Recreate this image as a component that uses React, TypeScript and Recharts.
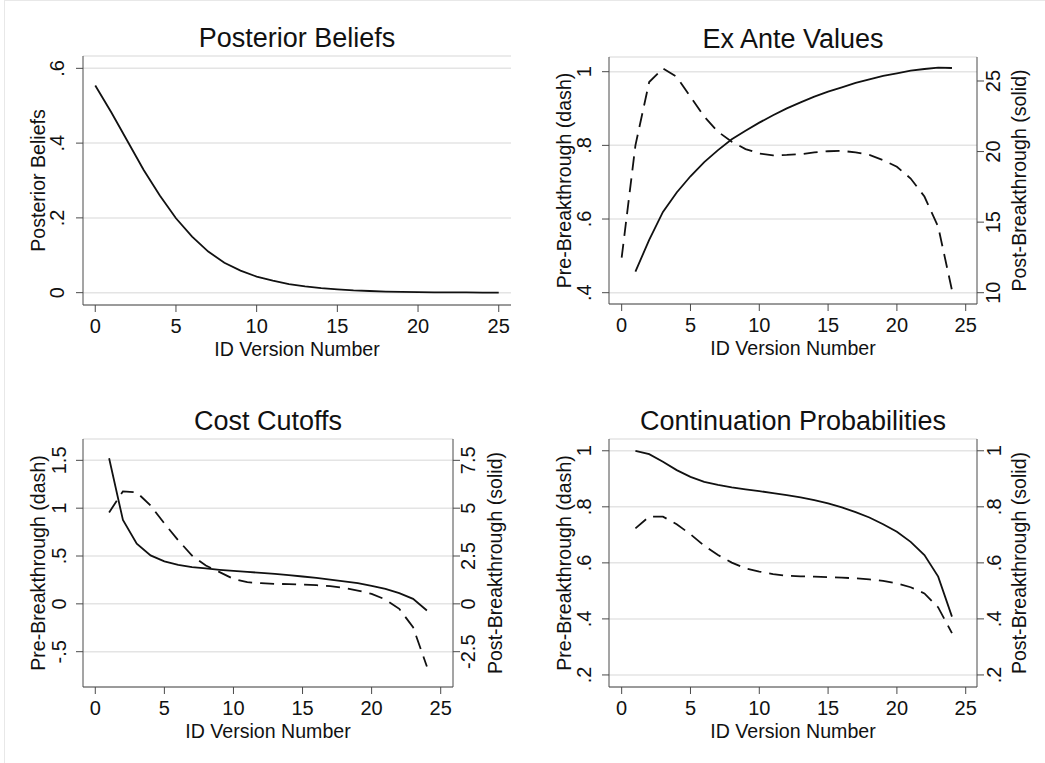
import React from "react";
import { LineChart, Line, XAxis, YAxis, CartesianGrid } from "recharts";

const FONT = '"Liberation Sans", Arial, Helvetica, sans-serif';
const INK = "#111111";
const AXIS = "#4a4a4a";
const GRID = "#e4e4e4";

// ID version numbers
const beliefVersions = [0, 1, 2, 3, 4, 5, 6, 7, 8, 9, 10, 11, 12, 13, 14, 15, 16, 17, 18, 19, 20, 21, 22, 23, 24, 25];
const posteriorBeliefs = [
  0.554, 0.482, 0.405, 0.328, 0.26, 0.199, 0.15, 0.11, 0.08, 0.059, 0.043, 0.032, 0.023, 0.017, 0.012,
  0.009, 0.006, 0.0045, 0.003, 0.002, 0.0015, 0.001, 0.0008, 0.0005, 0.0003, 0.0002,
];

const exAnteVersions = [0, 1, 2, 3, 4, 5, 6, 7, 8, 9, 10, 11, 12, 13, 14, 15, 16, 17, 18, 19, 20, 21, 22, 23, 24];
const exAntePre = [
  0.495, 0.8, 0.972, 1.009, 0.986, 0.932, 0.878, 0.837, 0.81, 0.79, 0.778, 0.773, 0.774, 0.776, 0.781,
  0.784, 0.785, 0.781, 0.774, 0.76, 0.742, 0.71, 0.661, 0.579, 0.407,
];
const exAntePost = [
  null, 11.49, 13.75, 15.72, 17.1, 18.25, 19.25, 20.1, 20.87, 21.48, 22.05, 22.57, 23.06, 23.49, 23.89,
  24.25, 24.55, 24.86, 25.12, 25.36, 25.54, 25.73, 25.85, 25.95, 25.92,
];

const cutoffVersions = [1, 2, 3, 4, 5, 6, 7, 8, 9, 10, 11, 12, 13, 14, 15, 16, 17, 18, 19, 20, 21, 22, 23, 24];
const cutoffPre = [
  0.955, 1.176, 1.165, 1.028, 0.84, 0.665, 0.505, 0.4, 0.331, 0.261, 0.226, 0.216, 0.209, 0.206, 0.202,
  0.195, 0.185, 0.167, 0.139, 0.105, 0.045, -0.052, -0.244, -0.655,
];
const cutoffPost = [
  7.61, 4.38, 3.14, 2.53, 2.22, 2.04, 1.92, 1.85, 1.78, 1.72, 1.67, 1.62, 1.57, 1.5, 1.43, 1.36, 1.27,
  1.18, 1.08, 0.94, 0.78, 0.56, 0.26, -0.35,
];

const contVersions = [1, 2, 3, 4, 5, 6, 7, 8, 9, 10, 11, 12, 13, 14, 15, 16, 17, 18, 19, 20, 21, 22, 23, 24];
const contPre = [
  0.723, 0.765, 0.765, 0.738, 0.702, 0.661, 0.628, 0.601, 0.58, 0.569, 0.56, 0.554, 0.552, 0.551, 0.549,
  0.547, 0.545, 0.541, 0.536, 0.527, 0.513, 0.491, 0.441, 0.349,
];
const contPost = [
  1.0, 0.988, 0.961, 0.931, 0.907, 0.889, 0.878, 0.869, 0.862, 0.856, 0.849, 0.842, 0.834, 0.824, 0.812,
  0.798, 0.781, 0.762, 0.738, 0.711, 0.675, 0.628, 0.551, 0.408,
];

const xTicks = [0, 5, 10, 15, 20, 25];
const beliefTicks = [0, 0.2, 0.4, 0.6];
const exAnteLeftTicks = [0.4, 0.6, 0.8, 1];
const exAnteRightTicks = [10, 15, 20, 25];
const cutoffLeftTicks = [-0.5, 0, 0.5, 1, 1.5];
const cutoffRightTicks = [-2.5, 0, 2.5, 5, 7.5];
const probTicks = [0.2, 0.4, 0.6, 0.8, 1];

const rows = (v: number[], pre: (number | null)[], post?: (number | null)[]) =>
  v.map((x, i) => ({ v: x, pre: pre[i], post: post ? post[i] : null }));

// stata style: .6 instead of 0.6
const fmt = (n: number) => String(n).replace(/^(-?)0\./, "$1.");

// vertical tick label, baseline pinned at a fixed x
const vTick = (bx: number) => (props: any) => {
  const { y, payload } = props;
  return (
    <text x={bx} y={y} transform={`rotate(-90, ${bx}, ${y})`} textAnchor="middle" fontSize={20} fontFamily={FONT} fill={INK}>
      {fmt(payload.value)}
    </text>
  );
};

const hTick = (by: number) => (props: any) => {
  const { x, payload } = props;
  return (
    <text x={x} y={by} textAnchor="middle" fontSize={20} fontFamily={FONT} fill={INK}>
      {fmt(payload.value)}
    </text>
  );
};

type Series = { key: string; axis: "left" | "right"; dashed?: boolean };

type PanelProps = {
  x: number;
  y: number;
  w: number;
  h: number;
  top: number;
  leftW: number;
  rightW: number;
  bottomH: number;
  title: string;
  leftLabel: string;
  rightLabel?: string;
  xDomain: [number, number];
  leftDomain: [number, number];
  leftTicks: number[];
  leftGap: number;
  rightDomain?: [number, number];
  rightTicks?: number[];
  rightGap?: number;
  data: any[];
  series: Series[];
};

function Panel(p: PanelProps) {
  const hasRight = !!p.rightLabel;
  const plotL = p.leftW;
  const plotR = p.w - p.rightW;
  const plotB = p.h - p.bottomH;
  const cx = (plotL + plotR) / 2;
  const cy = (p.top + plotB) / 2;
  const labelStyle = { fontSize: 19.6, fontFamily: FONT, fill: INK };

  return (
    <div style={{ position: "absolute", left: p.x, top: p.y, width: p.w, height: p.h }}>
      <LineChart
        width={p.w}
        height={p.h}
        data={p.data}
        margin={{ top: p.top, right: hasRight ? 0 : p.rightW, bottom: 0, left: 0 }}
      >
        <CartesianGrid yAxisId="left" vertical={false} stroke={GRID} strokeWidth={1.5} />
        <XAxis
          dataKey="v"
          type="number"
          domain={p.xDomain}
          ticks={xTicks}
          allowDataOverflow
          interval={0}
          height={p.bottomH}
          stroke={AXIS}
          tickSize={7}
          tick={hTick(plotB + 28)}
        />
        <YAxis
          yAxisId="left"
          type="number"
          domain={p.leftDomain}
          ticks={p.leftTicks}
          allowDataOverflow
          interval={0}
          width={p.leftW}
          stroke={AXIS}
          tickSize={7}
          tick={vTick(plotL - p.leftGap)}
        />
        {hasRight && (
          <YAxis
            yAxisId="right"
            orientation="right"
            type="number"
            domain={p.rightDomain}
            ticks={p.rightTicks}
            allowDataOverflow
            interval={0}
            width={p.rightW}
            stroke={AXIS}
            tickSize={7}
            tick={vTick(plotR + (p.rightGap || 23))}
          />
        )}
        {p.series.map((s) => (
          <Line
            key={s.key}
            yAxisId={s.axis}
            dataKey={s.key}
            type="linear"
            stroke={INK}
            strokeWidth={1.8}
            strokeDasharray={s.dashed ? "14 8" : undefined}
            dot={false}
            activeDot={false}
            isAnimationActive={false}
          />
        ))}
      </LineChart>
      <svg
        width={p.w}
        height={p.h}
        style={{ position: "absolute", left: 0, top: 0, pointerEvents: "none" }}
      >
        <text x={cx} y={p.top - 9} textAnchor="middle" fontSize={27} fontFamily={FONT} fill={INK}>
          {p.title}
        </text>
        <text
          x={plotL - 38}
          y={cy}
          transform={`rotate(-90, ${plotL - 38}, ${cy})`}
          textAnchor="middle"
          {...labelStyle}
        >
          {p.leftLabel}
        </text>
        {hasRight && (
          <text
            x={plotR + 49}
            y={cy}
            transform={`rotate(-90, ${plotR + 49}, ${cy})`}
            textAnchor="middle"
            {...labelStyle}
          >
            {p.rightLabel}
          </text>
        )}
        <text x={cx} y={plotB + 51} textAnchor="middle" {...labelStyle}>
          ID Version Number
        </text>
      </svg>
    </div>
  );
}

export default function App() {
  return (
    <div
      style={{
        position: "absolute",
        left: 0,
        top: 0,
        width: 1045,
        height: 763,
        background: "#fff",
        fontFamily: FONT,
        overflow: "hidden",
      }}
    >
      <div
        style={{
          position: "absolute",
          left: 4,
          top: 0,
          width: 1041,
          height: 763,
          borderTop: "1px solid #e8e8e8",
          borderLeft: "1px solid #e8e8e8",
          boxSizing: "border-box",
        }}
      />
      <Panel
        x={0}
        y={0}
        w={522}
        h={380}
        top={56}
        leftW={83}
        rightW={11}
        bottomH={75}
        title="Posterior Beliefs"
        leftLabel="Posterior Beliefs"
        xDomain={[-0.76, 25.76]}
        leftDomain={[-0.033, 0.633]}
        leftTicks={beliefTicks}
        leftGap={19.4}
        data={rows(beliefVersions, posteriorBeliefs)}
        series={[{ key: "pre", axis: "left" }]}
      />
      <Panel
        x={522}
        y={0}
        w={523}
        h={380}
        top={57}
        leftW={87}
        rightW={68}
        bottomH={76}
        title="Ex Ante Values"
        leftLabel="Pre-Breakthrough (dash)"
        rightLabel="Post-Breakthrough (solid)"
        xDomain={[-0.92, 25.82]}
        leftDomain={[0.3693, 1.0399]}
        leftTicks={exAnteLeftTicks}
        leftGap={17.5}
        rightDomain={[9.2, 26.7]}
        rightTicks={exAnteRightTicks}
        rightGap={23.4}
        data={rows(exAnteVersions, exAntePre, exAntePost)}
        series={[
          { key: "pre", axis: "left", dashed: true },
          { key: "post", axis: "right" },
        ]}
      />
      <Panel
        x={0}
        y={380}
        w={522}
        h={383}
        top={59}
        leftW={83}
        rightW={69}
        bottomH={76}
        title="Cost Cutoffs"
        leftLabel="Pre-Breakthrough (dash)"
        rightLabel="Post-Breakthrough (solid)"
        xDomain={[-0.89, 25.89]}
        leftDomain={[-0.869, 1.723]}
        leftTicks={cutoffLeftTicks}
        leftGap={16.6}
        rightDomain={[-4.345, 8.615]}
        rightTicks={cutoffRightTicks}
        rightGap={22.5}
        data={rows(cutoffVersions, cutoffPre, cutoffPost)}
        series={[
          { key: "pre", axis: "left", dashed: true },
          { key: "post", axis: "right" },
        ]}
      />
      <Panel
        x={522}
        y={380}
        w={523}
        h={383}
        top={59}
        leftW={87}
        rightW={68}
        bottomH={76}
        title="Continuation Probabilities"
        leftLabel="Pre-Breakthrough (dash)"
        rightLabel="Post-Breakthrough (solid)"
        xDomain={[-0.92, 25.82]}
        leftDomain={[0.157, 1.042]}
        leftTicks={probTicks}
        leftGap={17.5}
        rightDomain={[0.157, 1.042]}
        rightTicks={probTicks}
        rightGap={23.8}
        data={rows(contVersions, contPre, contPost)}
        series={[
          { key: "pre", axis: "left", dashed: true },
          { key: "post", axis: "right" },
        ]}
      />
    </div>
  );
}
